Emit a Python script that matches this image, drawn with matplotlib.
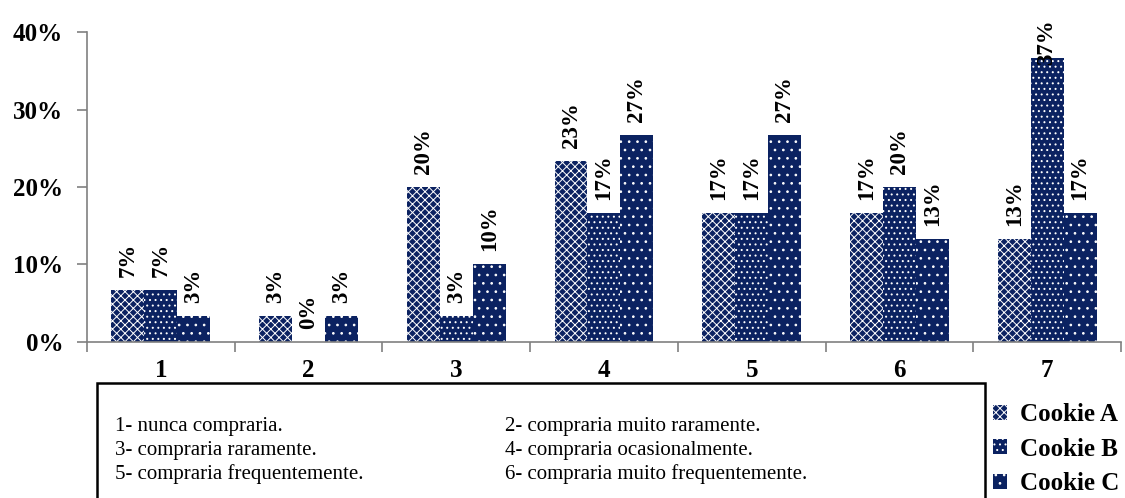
import numpy as np
import matplotlib.pyplot as plt
from matplotlib.patches import Patch, Rectangle

plt.rcParams['font.family'] = ['Liberation Serif', 'DejaVu Serif']
plt.rcParams['hatch.linewidth'] = 0.7

categories = ['1', '2', '3', '4', '5', '6', '7']
series_names = ['Cookie A', 'Cookie B', 'Cookie C']
cookie_a = [6.67, 3.33, 20.0, 23.33, 16.67, 16.67, 13.33]
cookie_b = [6.67, 0.0, 3.33, 16.67, 16.67, 20.0, 36.67]
cookie_c = [3.33, 3.33, 10.0, 26.67, 26.67, 13.33, 16.67]
scale_notes = [
    ('1- nunca compraria.', '2- compraria muito raramente.'),
    ('3- compraria raramente.', '4- compraria ocasionalmente.'),
    ('5- compraria frequentemente.', '6- compraria muito frequentemente.'),
]

navy = '#0b2261'
hatches = ['xxxx', '...', '..']

fig = plt.figure(figsize=(11.25, 4.98), dpi=100)
ax = fig.add_axes([0.0773, 0.3133, 0.9191, 0.6224])

x = np.arange(len(categories))
w = 0.223
for k, vals in enumerate([cookie_a, cookie_b, cookie_c]):
    pos = x + (k - 1) * w
    ax.bar(pos, vals, width=w, color=navy, edgecolor='white', linewidth=0,
           hatch=hatches[k], zorder=2)
    for xp, v in zip(pos, vals):
        # keep the tallest label from running off the top
        ypos = min(v + 1.7, 35.8)
        ax.text(xp, ypos, f'{round(v)}%', rotation=90, ha='center', va='bottom',
                fontsize=16.5, fontweight='bold', zorder=3)

ax.set_xlim(-0.5, len(categories) - 0.5)
ax.set_ylim(0, 40)
ax.set_yticks([0, 10, 20, 30, 40])
ax.set_yticklabels([f'{t}%' for t in [0, 10, 20, 30, 40]], fontsize=18, fontweight='bold')
ax.set_xticks(x)
ax.set_xticklabels(categories, fontsize=18, fontweight='bold')
ax.set_xticks(np.arange(len(categories) + 1) - 0.5, minor=True)
ax.tick_params(axis='x', which='major', length=0, pad=12)
ax.tick_params(axis='x', which='minor', length=7, color='#808080', width=1.2)
ax.tick_params(axis='y', length=7, color='#808080', width=1.2, pad=10)

for side in ['top', 'right']:
    ax.spines[side].set_visible(False)
for side in ['left', 'bottom']:
    ax.spines[side].set_color('#808080')
    ax.spines[side].set_linewidth(1.2)

# scale description box
fig.patches.append(Rectangle((97 / 1125, -0.05), (985 - 97) / 1125, (498 - 383) / 498 + 0.05,
                             transform=fig.transFigure, fill=False, edgecolor='black',
                             linewidth=1.8))
for i, (left, right) in enumerate(scale_notes):
    yy = 1 - (426 + 24 * i) / 498
    fig.text(115 / 1125, yy, left, fontsize=15, va='center')
    fig.text(505 / 1125, yy, right, fontsize=15, va='center')

handles = [Patch(facecolor=navy, edgecolor='white', linewidth=0, hatch=h) for h in hatches]
fig.legend(handles, series_names, loc='upper left', bbox_to_anchor=(0.874, 0.21),
           frameon=False, prop={'size': 18, 'weight': 'bold'}, handlelength=0.55,
           handleheight=0.55, handletextpad=0.5, labelspacing=0.45, borderaxespad=0)

fig.savefig('out.png', dpi=100)
